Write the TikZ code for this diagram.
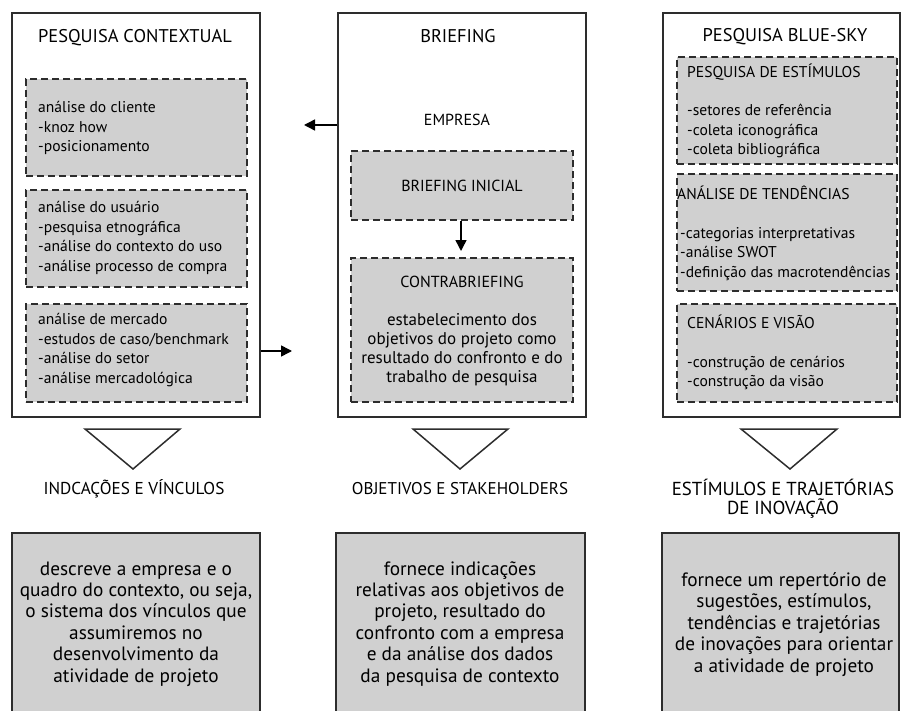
\documentclass[tikz,border=0pt]{standalone}
\usepackage{fontspec}
\setmainfont{PT Sans}
\usetikzlibrary{arrows.meta}
\definecolor{boxgray}{RGB}{208,208,208}
\definecolor{linegray}{RGB}{45,45,45}
\begin{document}
\begin{tikzpicture}[x=1pt,y=-1pt,
  outerbox/.style={draw=linegray,line width=1.5pt,fill=white,inner sep=0pt,minimum width=#1},
  dbox/.style={draw=linegray,line width=1.4pt,dash pattern=on 7pt off 4pt,fill=boxgray,inner sep=0pt},
  ttl/.style={inner sep=0pt,anchor=base,font=\fontsize{18.4}{22}\selectfont},
  hd/.style={inner sep=0pt,anchor=base,font=\fontsize{16}{18}\selectfont},
  lst/.style={inner sep=0pt,anchor=base west,align=left,font=\fontsize{15.6}{19.5}\selectfont},
  mid/.style={inner sep=0pt,anchor=base,align=center,font=\fontsize{17}{19}\selectfont},
  lbl/.style={inner sep=0pt,anchor=base,align=center,font=\fontsize{#1}{19}\selectfont},
  body/.style={inner sep=0pt,anchor=base,align=center,font=\fontsize{19.3}{21.4}\selectfont},
  arr/.style={draw=black,line width=1.5pt,-{Triangle[length=11pt,width=11pt]}},
  tri/.style={draw=linegray,line width=1.5pt,line join=miter}
]
\useasboundingbox (0,0) rectangle (901,711);

% ---------- outer boxes ----------
\node[outerbox=248,minimum height=404] (pc) at (136,215) {};
\node[outerbox=248,minimum height=404] (br) at (462,215) {};
\node[outerbox=237,minimum height=404] (bs) at (781.5,215) {};

% ---------- titles ----------
\node[ttl] (tpc) at (135,43) {PESQUISA CONTEXTUAL};
\node[ttl] (tbr) at (458,43) {BRIEFING};
\node[ttl] (tbs) at (785,42) {PESQUISA BLUE-SKY};

% ---------- left dashed boxes (base = last line) ----------
\node[dbox,minimum width=221,minimum height=97] (c1) at (136.5,127.5) {};
\node[dbox,minimum width=221,minimum height=97] (c2) at (136.5,238.5) {};
\node[dbox,minimum width=221,minimum height=98] (c3) at (136.5,353) {};
\node[lst] (c1t) at (38,152) {análise do cliente\\-knoz how\\-posicionamento};
\node[lst] (c2t) at (38,271) {análise do usuário\\-pesquisa etnográfica\\-análise do contexto do uso\\-análise processo de compra};
\node[lst] (c3t) at (38,383) {análise de mercado\\-estudos de caso/benchmark\\-análise do setor\\-análise mercadológica};

% ---------- middle ----------
\node[hd] (emp) at (457,126) {EMPRESA};
\node[dbox,minimum width=222,minimum height=69] (bi) at (462,185.5) {};
\node[hd] (bit) at (462,192) {BRIEFING INICIAL};
\node[dbox,minimum width=222,minimum height=144] (cb) at (462,330) {};
\node[hd] (cbt) at (462,287) {CONTRABRIEFING};
\node[mid] (cbb) at (462,382) {estabelecimento dos\\objetivos do projeto como\\resultado do confronto e do\\trabalho de pesquisa};

% ---------- right dashed boxes ----------
\node[dbox,minimum width=220,minimum height=107] (s1) at (787,110.5) {};
\node[dbox,minimum width=220,minimum height=117] (s2) at (787,232.5) {};
\node[dbox,minimum width=220,minimum height=98] (s3) at (787,353) {};
\node[lst] (s1h) at (687,78) {PESQUISA DE ESTÍMULOS};
\node[lst] (s1t) at (687,155) {-setores de referência\\-coleta iconográfica\\-coleta bibliográfica};
\node[lst] (s2h) at (677,200) {ANÁLISE DE TENDÊNCIAS};
\node[lst] (s2t) at (680,277) {-categorias interpretativas\\-análise SWOT\\-definição das macrotendências};
\node[lst] (s3h) at (687,328) {CENÁRIOS E VISÃO};
\node[lst] (s3t) at (687,386.5) {-construção de cenários\\-construção da visão};

% ---------- arrows ----------
\coordinate (la) at (304,125);
\coordinate (ra) at (292,351);
\coordinate (da) at (461,251);
\draw[arr] (br.west |- la) -- (la);
\draw[arr] (pc.east |- ra) -- (ra);
\draw[arr] (bi.south -| da) -- (da);

% ---------- triangles ----------
\draw[tri] (85,429) -- (180,429) -- (133,469) -- cycle;
\draw[tri] (413,429) -- (508,429) -- (460,469) -- cycle;
\draw[tri] (741,429) -- (837,429) -- (790,469) -- cycle;

% ---------- labels ----------
\node[lbl=17.2] (l1) at (134,494) {INDCAÇÕES E VÍNCULOS};
\node[lbl=17] (l2) at (460,494) {OBJETIVOS E STAKEHOLDERS};
\node[lbl=18.8] (l3) at (783,514) {ESTÍMULOS E TRAJETÓRIAS\\DE INOVAÇÃO};

% ---------- bottom boxes (open at the bottom edge) ----------
\fill[boxgray] (12,533) rectangle (260,712);
\fill[boxgray] (336,533) rectangle (585,712);
\fill[boxgray] (662,533) rectangle (899,712);
\draw[draw=linegray,line width=1.5pt] (12,713) -- (12,533) -- (260,533) -- (260,713);
\draw[draw=linegray,line width=1.5pt] (336,713) -- (336,533) -- (585,533) -- (585,713);
\draw[draw=linegray,line width=1.5pt] (662,713) -- (662,533) -- (899,533) -- (899,713);
\node[body] (b1) at (136,682) {descreve a empresa e o\\quadro do contexto, ou seja,\\o sistema dos vínculos que\\assumiremos no\\desenvolvimento da\\atividade de projeto};
\node[body] (b2) at (460,682) {fornece indicações\\relativas aos objetivos de\\projeto, resultado do\\confronto com a empresa\\e da análise dos dados\\da pesquisa de contexto};
\node[body] (b3) at (784,672) {fornece um repertório de\\sugestões, estímulos,\\tendências e trajetórias\\de inovações para orientar\\a atividade de projeto};
\end{tikzpicture}
\end{document}
